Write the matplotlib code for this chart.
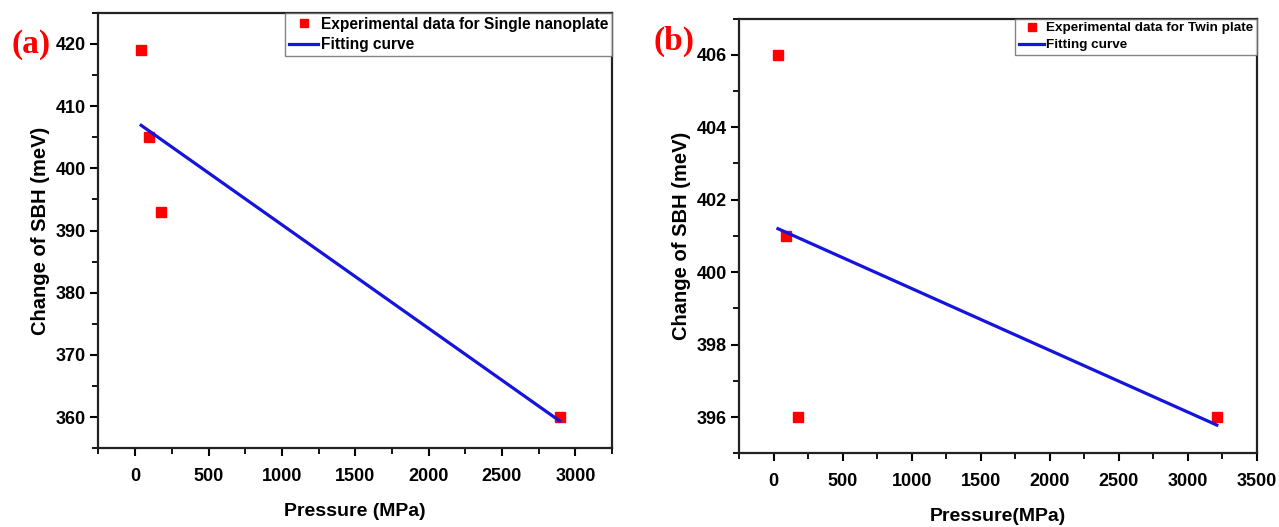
import matplotlib
matplotlib.use("Agg")
from matplotlib import pyplot as plt
from matplotlib.ticker import MultipleLocator

# panel (a) - single nanoplate
press_a = [41, 93, 173, 2893]
sbh_a = [419, 405, 393, 360]
fit_x_a = [41, 2893]
fit_y_a = [406.9, 359.4]

# panel (b) - twin plate
press_b = [32, 88, 174, 3209]
sbh_b = [406, 401, 396, 396]
fit_x_b = [32, 3209]
fit_y_b = [401.2, 395.78]

sans = ['Liberation Sans', 'DejaVu Sans']
serif = ['Liberation Serif', 'DejaVu Serif']

fig = plt.figure(figsize=(12.79, 5.27), dpi=100)
ax1 = fig.add_axes([0.0770, 0.1493, 0.4015, 0.8266])
ax2 = fig.add_axes([0.5778, 0.1398, 0.4050, 0.8250])


def style(ax, xlim, ylim, ymaj, ymin, xlabel):
    ax.set_xlim(*xlim)
    ax.set_ylim(*ylim)
    ax.xaxis.set_major_locator(MultipleLocator(500))
    ax.xaxis.set_minor_locator(MultipleLocator(250))
    ax.yaxis.set_major_locator(MultipleLocator(ymaj))
    ax.yaxis.set_minor_locator(MultipleLocator(ymin))
    for s in ax.spines.values():
        s.set_linewidth(1.6)
        s.set_color('#222222')
    ax.tick_params(which='major', direction='out', length=6, width=1.5,
                   top=False, right=False)
    ax.tick_params(which='minor', direction='out', length=4, width=1.3,
                   top=False, right=False)
    ax.tick_params(axis='x', pad=8)
    ax.tick_params(axis='y', pad=3)
    for lab in ax.get_xticklabels() + ax.get_yticklabels():
        lab.set_family(sans)
        lab.set_fontweight('bold')
        lab.set_fontsize(13)
    ax.set_ylabel('Change of SBH (meV)', family=sans, fontweight='bold',
                  fontsize=14.5, labelpad=4)
    ax.set_xlabel(xlabel, family=sans, fontweight='bold', fontsize=14,
                  labelpad=13)


def legend(ax, size):
    leg = ax.legend(loc='upper right', borderaxespad=0, fancybox=False,
                    handlelength=1.9, handletextpad=0.15, borderpad=0.25,
                    labelspacing=0.35, markerscale=0.8,
                    prop={'family': sans, 'weight': 'bold', 'size': size})
    leg.get_frame().set_edgecolor('#666666')
    leg.get_frame().set_linewidth(1.0)


# (a)
ax1.plot(press_a, sbh_a, 's', color='#ff0000', markersize=7,
         label='Experimental data for Single nanoplate')
ax1.plot(fit_x_a, fit_y_a, '-', color='#1414dc', linewidth=2.3,
         label='Fitting curve')
style(ax1, (-250, 3250), (355, 425), 10, 5, 'Pressure (MPa)')
legend(ax1, 11.2)
fig.text(0.024, 0.915, '(a)', color='#ff0000', family=serif,
         fontweight='bold', fontsize=24, ha='center', va='center')

# (b)
ax2.plot(press_b, sbh_b, 's', color='#ff0000', markersize=7,
         label='Experimental data for Twin plate')
ax2.plot(fit_x_b, fit_y_b, '-', color='#1414dc', linewidth=2.3,
         label='Fitting curve')
style(ax2, (-250, 3500), (395, 407), 2, 1, 'Pressure(MPa)')
legend(ax2, 9.7)
fig.text(0.527, 0.922, '(b)', color='#ff0000', family=serif,
         fontweight='bold', fontsize=24, ha='center', va='center')

fig.savefig('out.png', dpi=100)
